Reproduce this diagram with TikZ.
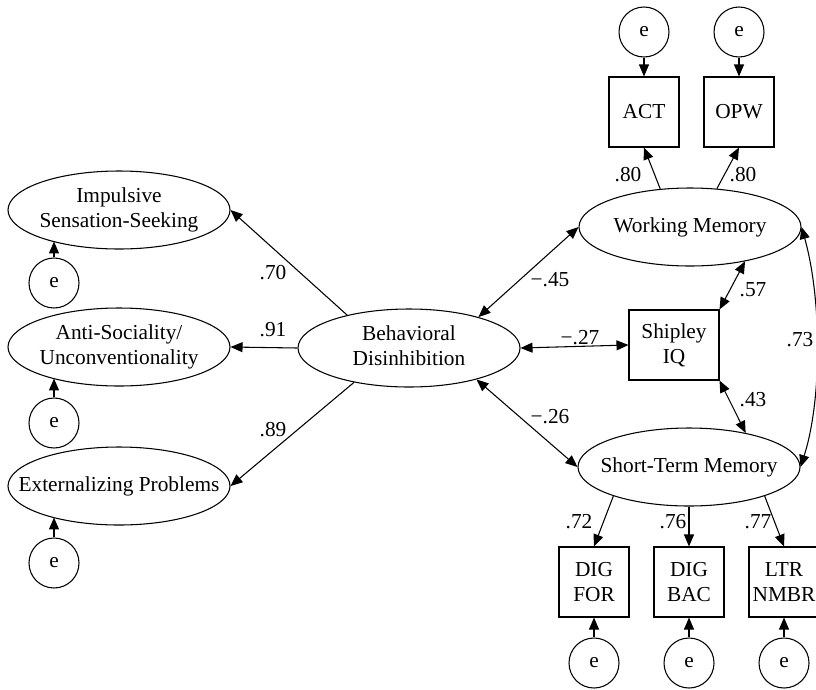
\documentclass[tikz,border=0pt]{standalone}
\usepackage{fontspec}
\setmainfont{Liberation Serif}
\usetikzlibrary{arrows.meta,shapes.geometric}
\newcommand{\zw}[1]{\makebox[0pt]{\begin{tabular}{@{}c@{}}#1\end{tabular}}}
\begin{document}
\begin{tikzpicture}[x=0.75pt,y=-0.75pt,
  every node/.style={font=\fontsize{16}{18.75}\selectfont, text=black},
  lat/.style={draw, ellipse, inner sep=0pt, minimum width=166.5pt, minimum height=58.5pt, line width=0.8pt},
  obs/.style={draw, rectangle, inner sep=0pt, minimum width=52.5pt, minimum height=52.5pt, align=center, line width=0.8pt},
  err/.style={draw, circle, inner sep=0pt, minimum size=37.5pt, line width=0.8pt},
  conn/.style={line width=0.8pt, -{Triangle[length=9pt,width=7.5pt]}},
  biconn/.style={line width=0.8pt, {Triangle[length=9pt,width=7.5pt]}-{Triangle[length=9pt,width=7.5pt]}},
  coef/.style={inner sep=1pt}
]
\useasboundingbox (0,0) rectangle (816,689);

% latent variables
\node[lat] (is) at (119,210) {\zw{Impulsive\\Sensation-Seeking}};
\node[lat] (as) at (119,347) {\zw{Anti-Sociality/\\Unconventionality}};
\node[lat] (ep) at (119,486) {\zw{Externalizing Problems}};
\node[lat] (bd) at (409,348) {\zw{Behavioral\\Disinhibition}};
\node[lat] (wm) at (690,227) {\zw{Working Memory}};
\node[lat] (stm) at (689,467) {\zw{Short-Term Memory}};

% observed
\node[obs] (act) at (644,112) {ACT};
\node[obs] (opw) at (739,112) {OPW};
\node[obs, minimum width=67.5pt] (ship) at (674,345) {Shipley\\IQ};
\node[obs] (df) at (594,582) {DIG\\FOR};
\node[obs] (db) at (689,582) {DIG\\BAC};
\node[obs] (ln) at (784,582) {LTR\\NMBR};

% errors
\node[err] (e1) at (644,32) {e};
\node[err] (e2) at (739,32) {e};
\node[err] (e3) at (54,283) {e};
\node[err] (e4) at (54,423) {e};
\node[err] (e5) at (54,563) {e};
\node[err] (e6) at (594,663) {e};
\node[err] (e7) at (689,663) {e};
\node[err] (e8) at (784,663) {e};

% error arrows
\draw[conn] (e1) -- (act);
\draw[conn] (e2) -- (opw);
\draw[conn] (e3.north) -- (e3.north |- is.205.5);
\draw[conn] (e4.north) -- (e4.north |- as.205.5);
\draw[conn] (e5.north) -- (e5.north |- ep.205.5);
\draw[conn] (e6) -- (df);
\draw[conn] (e7) -- (db);
\draw[conn] (e8) -- (ln);

% loadings
\draw[conn] (bd.152) -- (is.east);
\draw[conn] (bd.west) -- (as.east);
\draw[conn] (bd.212) -- (ep.east);
\draw[conn] (wm.128) -- (act.south);
\draw[conn] (wm.55) -- (opw.south);
\draw[conn] (stm.201) -- (df.north);
\draw[conn] (stm.south) -- (db.north);
\draw[conn] (stm.-21) -- (ln.north);

% correlations
\draw[biconn] (bd.24) -- (wm.west);
\draw[biconn] (bd.east) -- (ship.west);
\draw[biconn] (bd.-25) -- (stm.west);
\draw[biconn] (wm.-32) -- (ship.north east);
\draw[biconn] (stm.31) -- (ship.south east);
\draw[biconn] (wm.east) .. controls (822,300) and (822,400) .. (stm.east);

% coefficients
\node[coef] (c70) at (273,273) {.70};
\node[coef] (c91) at (273,330) {.91};
\node[coef] (c89) at (273,430) {.89};
\node[coef] (c45) at (550,280) {−.45};
\node[coef] (c27) at (580,338) {−.27};
\node[coef] (c26) at (550,417) {−.26};
\node[coef] (c80a) at (628,175) {.80};
\node[coef] (c80b) at (743,175) {.80};
\node[coef] (c57) at (753,290) {.57};
\node[coef] (c43) at (753,400) {.43};
\node[coef] (c73) at (800,340) {.73};
\node[coef] (c72) at (579,522) {.72};
\node[coef] (c76) at (673,522) {.76};
\node[coef] (c77) at (758,522) {.77};
\end{tikzpicture}
\end{document}
